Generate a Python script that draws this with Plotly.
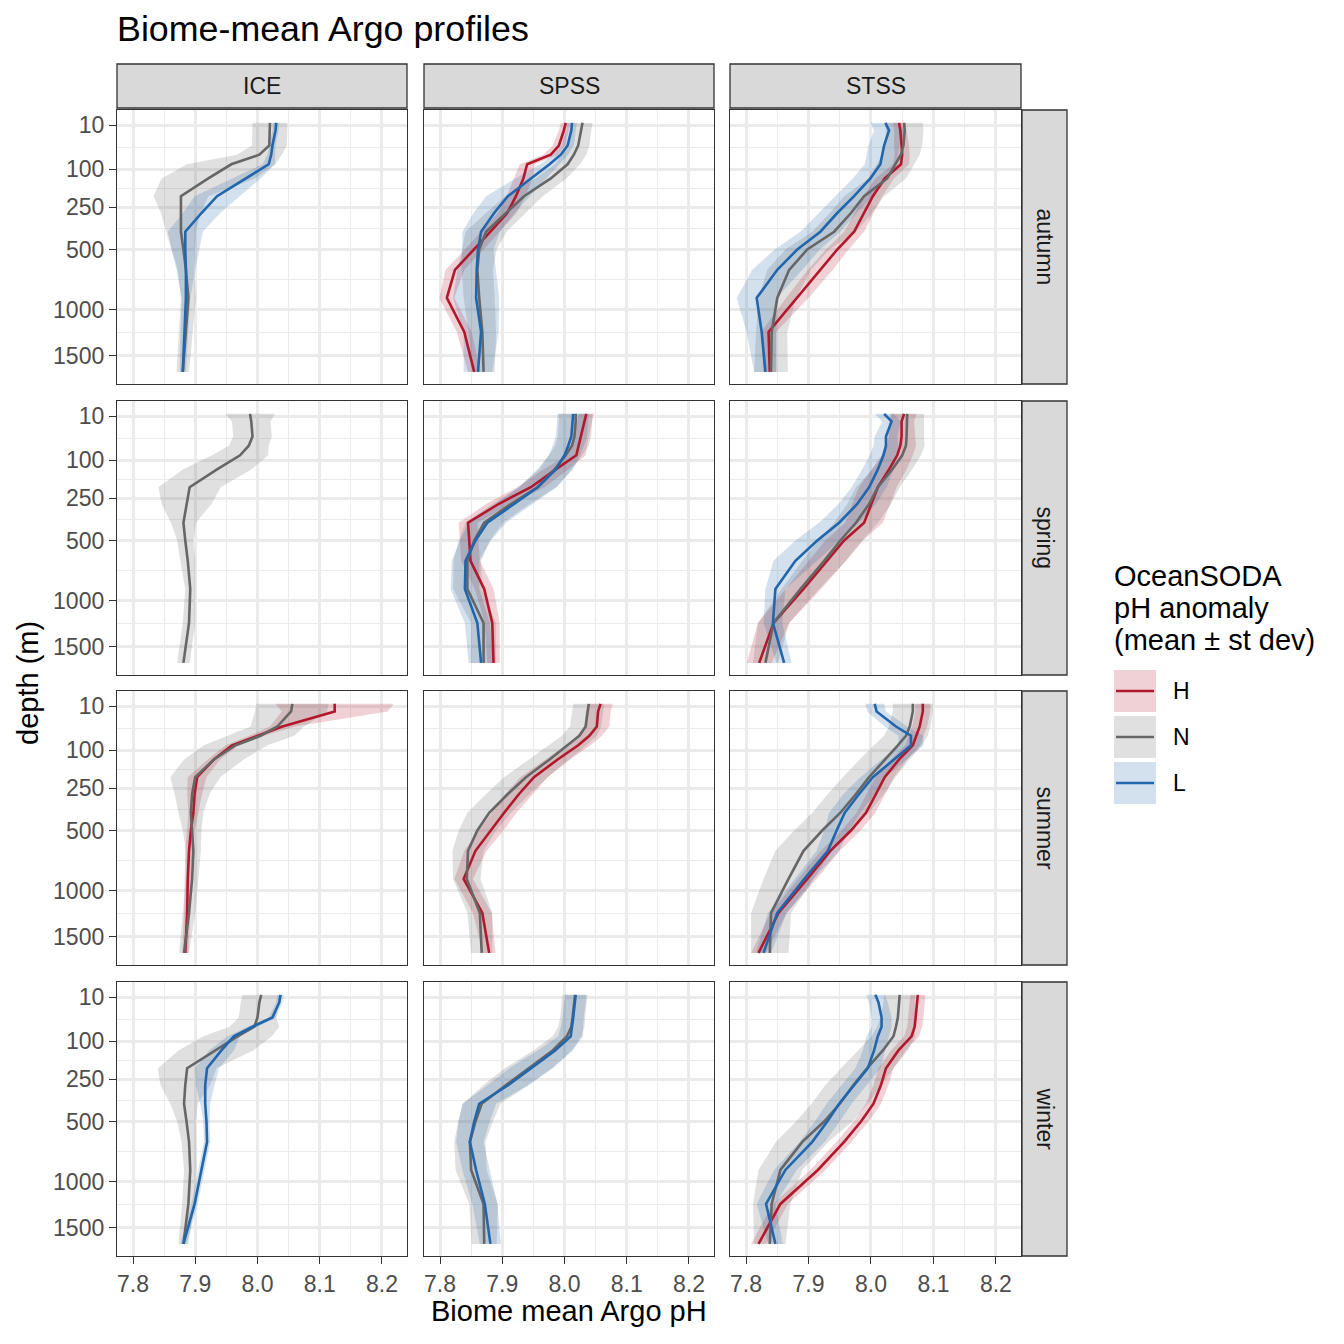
import numpy as np
import plotly.graph_objects as go

# ---------------- data ----------------
depth_m = [8, 16, 40, 60, 85, 130, 200, 280, 385, 500, 650, 890, 1230, 1700]
biomes = ["ICE", "SPSS", "STSS"]
seasons = ["autumn", "spring", "summer", "winter"]
anomaly_levels = ["H", "N", "L"]
depth_ticks = [10, 100, 250, 500, 1000, 1500]
ph_ticks = [7.8, 7.9, 8.0, 8.1, 8.2]
ph_tick_labels = ["7.8", "7.9", "8.0", "8.1", "8.2"]

# autumn
ice_autumn_N_mean = [8.020, 8.020, 8.019, 8.003, 7.958, 7.921, 7.877, 7.877, 7.877, 7.881, 7.885, 7.889, 7.885, 7.880]
ice_autumn_N_sd = [0.028, 0.028, 0.028, 0.036, 0.071, 0.075, 0.044, 0.032, 0.024, 0.019, 0.013, 0.012, 0.011, 0.010]
ice_autumn_L_mean = [8.030, 8.029, 8.024, 8.022, 8.018, 7.982, 7.935, 7.910, 7.884, 7.884, 7.885, 7.885, 7.883, 7.880]
ice_autumn_L_sd = [0.005, 0.005, 0.005, 0.006, 0.010, 0.023, 0.036, 0.030, 0.028, 0.022, 0.015, 0.007, 0.006, 0.005]

spss_autumn_H_mean = [8.002, 7.999, 7.991, 7.978, 7.940, 7.934, 7.922, 7.908, 7.881, 7.855, 7.824, 7.811, 7.839, 7.855]
spss_autumn_H_sd = [0.008, 0.008, 0.010, 0.012, 0.012, 0.015, 0.015, 0.015, 0.015, 0.015, 0.015, 0.012, 0.012, 0.010]
spss_autumn_N_mean = [8.029, 8.027, 8.022, 8.015, 8.005, 7.978, 7.935, 7.906, 7.874, 7.863, 7.860, 7.863, 7.868, 7.870]
spss_autumn_N_sd = [0.016, 0.016, 0.018, 0.020, 0.020, 0.025, 0.030, 0.032, 0.033, 0.028, 0.025, 0.025, 0.022, 0.018]
spss_autumn_L_mean = [8.012, 8.011, 8.005, 7.994, 7.976, 7.946, 7.909, 7.887, 7.866, 7.861, 7.859, 7.858, 7.866, 7.861]
spss_autumn_L_sd = [0.008, 0.008, 0.010, 0.012, 0.015, 0.025, 0.035, 0.033, 0.030, 0.025, 0.031, 0.037, 0.028, 0.023]

stss_autumn_H_mean = [8.045, 8.047, 8.049, 8.050, 8.048, 8.022, 8.003, 7.989, 7.973, 7.946, 7.919, 7.882, 7.836, 7.838]
stss_autumn_H_sd = [0.010, 0.010, 0.012, 0.012, 0.013, 0.015, 0.015, 0.015, 0.016, 0.018, 0.020, 0.018, 0.012, 0.010]
stss_autumn_N_mean = [8.053, 8.054, 8.052, 8.048, 8.039, 8.026, 7.989, 7.968, 7.941, 7.898, 7.869, 7.850, 7.841, 7.840]
stss_autumn_N_sd = [0.030, 0.030, 0.030, 0.030, 0.030, 0.030, 0.032, 0.034, 0.035, 0.035, 0.035, 0.030, 0.025, 0.027]
stss_autumn_L_mean = [8.023, 8.029, 8.021, 8.018, 8.015, 7.999, 7.973, 7.946, 7.919, 7.882, 7.850, 7.817, 7.825, 7.831]
stss_autumn_L_sd = [0.024, 0.024, 0.025, 0.025, 0.025, 0.028, 0.030, 0.031, 0.032, 0.036, 0.040, 0.032, 0.024, 0.018]

# spring
ice_spring_N_mean = [7.988, 7.990, 7.992, 7.986, 7.972, 7.935, 7.891, 7.886, 7.881, 7.884, 7.888, 7.892, 7.890, 7.881]
ice_spring_N_sd = [0.040, 0.031, 0.031, 0.032, 0.045, 0.055, 0.050, 0.040, 0.020, 0.013, 0.012, 0.008, 0.010, 0.010]

spss_spring_H_mean = [8.035, 8.032, 8.027, 8.023, 8.019, 7.986, 7.946, 7.894, 7.845, 7.847, 7.849, 7.871, 7.884, 7.886]
spss_spring_H_sd = [0.012, 0.012, 0.012, 0.013, 0.015, 0.020, 0.022, 0.020, 0.015, 0.015, 0.015, 0.015, 0.012, 0.010]
spss_spring_N_mean = [8.018, 8.018, 8.016, 8.012, 8.002, 7.984, 7.957, 7.914, 7.871, 7.855, 7.844, 7.844, 7.870, 7.870]
spss_spring_N_sd = [0.027, 0.027, 0.027, 0.027, 0.027, 0.028, 0.030, 0.030, 0.030, 0.025, 0.022, 0.023, 0.020, 0.020]
spss_spring_L_mean = [8.014, 8.013, 8.011, 8.006, 8.000, 7.986, 7.957, 7.919, 7.876, 7.857, 7.841, 7.840, 7.860, 7.866]
spss_spring_L_sd = [0.025, 0.025, 0.025, 0.025, 0.025, 0.027, 0.030, 0.030, 0.030, 0.025, 0.022, 0.023, 0.020, 0.020]

stss_spring_H_mean = [8.053, 8.049, 8.049, 8.047, 8.042, 8.029, 8.011, 8.000, 7.989, 7.957, 7.930, 7.892, 7.844, 7.821]
stss_spring_H_sd = [0.020, 0.020, 0.022, 0.025, 0.025, 0.028, 0.030, 0.030, 0.030, 0.030, 0.030, 0.028, 0.025, 0.020]
stss_spring_N_mean = [8.058, 8.058, 8.057, 8.056, 8.050, 8.034, 8.011, 7.997, 7.976, 7.951, 7.925, 7.887, 7.844, 7.831]
stss_spring_N_sd = [0.027, 0.027, 0.028, 0.030, 0.030, 0.032, 0.035, 0.035, 0.035, 0.035, 0.035, 0.030, 0.025, 0.020]
stss_spring_L_mean = [8.021, 8.033, 8.024, 8.024, 8.020, 8.011, 7.997, 7.978, 7.949, 7.914, 7.879, 7.847, 7.843, 7.861]
stss_spring_L_sd = [0.015, 0.015, 0.018, 0.020, 0.022, 0.025, 0.028, 0.030, 0.032, 0.035, 0.035, 0.016, 0.015, 0.012]

# summer
ice_summer_H_mean = [8.124, 8.124, 8.040, 7.999, 7.959, 7.930, 7.903, 7.899, 7.897, 7.893, 7.890, 7.888, 7.887, 7.884]
ice_summer_H_sd = [0.095, 0.085, 0.020, 0.012, 0.010, 0.010, 0.015, 0.012, 0.008, 0.006, 0.006, 0.005, 0.005, 0.005]
ice_summer_N_mean = [8.056, 8.054, 8.032, 8.005, 7.965, 7.930, 7.900, 7.895, 7.893, 7.895, 7.897, 7.895, 7.890, 7.882]
ice_summer_N_sd = [0.058, 0.058, 0.043, 0.054, 0.051, 0.048, 0.040, 0.028, 0.020, 0.015, 0.012, 0.010, 0.010, 0.008]

spss_summer_H_mean = [8.058, 8.054, 8.052, 8.040, 8.022, 7.989, 7.951, 7.927, 7.903, 7.882, 7.857, 7.838, 7.868, 7.879]
spss_summer_H_sd = [0.020, 0.020, 0.020, 0.020, 0.020, 0.020, 0.022, 0.022, 0.020, 0.020, 0.018, 0.015, 0.015, 0.010]
spss_summer_N_mean = [8.039, 8.037, 8.034, 8.024, 8.005, 7.976, 7.938, 7.909, 7.879, 7.860, 7.845, 7.843, 7.864, 7.867]
spss_summer_N_sd = [0.025, 0.025, 0.025, 0.028, 0.030, 0.032, 0.035, 0.035, 0.035, 0.030, 0.025, 0.022, 0.020, 0.017]

stss_summer_H_mean = [8.083, 8.083, 8.078, 8.072, 8.067, 8.045, 8.022, 8.008, 7.992, 7.968, 7.935, 7.898, 7.852, 7.820]
stss_summer_H_sd = [0.012, 0.012, 0.012, 0.012, 0.012, 0.013, 0.015, 0.015, 0.015, 0.015, 0.015, 0.015, 0.013, 0.012]
stss_summer_N_mean = [8.067, 8.067, 8.062, 8.056, 8.043, 8.022, 7.997, 7.976, 7.951, 7.922, 7.892, 7.868, 7.840, 7.838]
stss_summer_N_sd = [0.032, 0.032, 0.033, 0.035, 0.038, 0.040, 0.042, 0.045, 0.045, 0.045, 0.045, 0.040, 0.032, 0.030]
stss_summer_L_mean = [8.006, 8.009, 8.040, 8.064, 8.064, 8.037, 8.003, 7.981, 7.958, 7.945, 7.931, 7.893, 7.850, 7.828]
stss_summer_L_sd = [0.015, 0.015, 0.018, 0.020, 0.020, 0.020, 0.020, 0.025, 0.025, 0.020, 0.018, 0.015, 0.015, 0.012]

# winter
ice_winter_N_mean = [8.006, 8.003, 8.000, 7.995, 7.968, 7.933, 7.887, 7.884, 7.882, 7.886, 7.890, 7.892, 7.889, 7.881]
ice_winter_N_sd = [0.030, 0.030, 0.030, 0.040, 0.055, 0.060, 0.047, 0.040, 0.022, 0.015, 0.012, 0.010, 0.010, 0.008]
ice_winter_L_mean = [8.037, 8.035, 8.024, 7.992, 7.962, 7.942, 7.919, 7.916, 7.916, 7.918, 7.919, 7.910, 7.899, 7.881]
ice_winter_L_sd = [0.005, 0.005, 0.006, 0.008, 0.010, 0.020, 0.019, 0.015, 0.008, 0.005, 0.005, 0.005, 0.005, 0.005]

spss_winter_N_mean = [8.017, 8.016, 8.013, 8.011, 8.004, 7.981, 7.942, 7.906, 7.867, 7.857, 7.848, 7.850, 7.870, 7.871]
spss_winter_N_sd = [0.020, 0.020, 0.020, 0.021, 0.023, 0.031, 0.038, 0.036, 0.030, 0.028, 0.025, 0.025, 0.023, 0.020]
spss_winter_L_mean = [8.018, 8.017, 8.014, 8.012, 8.010, 7.985, 7.946, 7.910, 7.863, 7.855, 7.848, 7.858, 7.872, 7.881]
spss_winter_L_sd = [0.017, 0.017, 0.017, 0.018, 0.020, 0.028, 0.035, 0.033, 0.027, 0.025, 0.022, 0.022, 0.020, 0.017]

stss_winter_H_mean = [8.075, 8.074, 8.072, 8.070, 8.065, 8.044, 8.024, 8.016, 8.004, 7.984, 7.957, 7.915, 7.855, 7.820]
stss_winter_H_sd = [0.012, 0.012, 0.012, 0.012, 0.012, 0.012, 0.012, 0.012, 0.012, 0.012, 0.012, 0.012, 0.012, 0.012]
stss_winter_N_mean = [8.046, 8.045, 8.043, 8.040, 8.036, 8.019, 7.994, 7.972, 7.950, 7.925, 7.890, 7.855, 7.841, 7.838]
stss_winter_N_sd = [0.025, 0.025, 0.028, 0.030, 0.035, 0.040, 0.042, 0.045, 0.045, 0.045, 0.042, 0.035, 0.030, 0.025]
stss_winter_L_mean = [8.007, 8.012, 8.017, 8.017, 8.011, 8.005, 7.995, 7.973, 7.949, 7.930, 7.906, 7.863, 7.832, 7.847]
stss_winter_L_sd = [0.015, 0.015, 0.016, 0.016, 0.018, 0.018, 0.020, 0.020, 0.020, 0.020, 0.020, 0.018, 0.015, 0.012]

panel_series = {
    ("autumn", "ICE"): {"N": (ice_autumn_N_mean, ice_autumn_N_sd), "L": (ice_autumn_L_mean, ice_autumn_L_sd)},
    ("autumn", "SPSS"): {"H": (spss_autumn_H_mean, spss_autumn_H_sd), "N": (spss_autumn_N_mean, spss_autumn_N_sd), "L": (spss_autumn_L_mean, spss_autumn_L_sd)},
    ("autumn", "STSS"): {"H": (stss_autumn_H_mean, stss_autumn_H_sd), "N": (stss_autumn_N_mean, stss_autumn_N_sd), "L": (stss_autumn_L_mean, stss_autumn_L_sd)},
    ("spring", "ICE"): {"N": (ice_spring_N_mean, ice_spring_N_sd)},
    ("spring", "SPSS"): {"H": (spss_spring_H_mean, spss_spring_H_sd), "N": (spss_spring_N_mean, spss_spring_N_sd), "L": (spss_spring_L_mean, spss_spring_L_sd)},
    ("spring", "STSS"): {"H": (stss_spring_H_mean, stss_spring_H_sd), "N": (stss_spring_N_mean, stss_spring_N_sd), "L": (stss_spring_L_mean, stss_spring_L_sd)},
    ("summer", "ICE"): {"H": (ice_summer_H_mean, ice_summer_H_sd), "N": (ice_summer_N_mean, ice_summer_N_sd)},
    ("summer", "SPSS"): {"H": (spss_summer_H_mean, spss_summer_H_sd), "N": (spss_summer_N_mean, spss_summer_N_sd)},
    ("summer", "STSS"): {"H": (stss_summer_H_mean, stss_summer_H_sd), "N": (stss_summer_N_mean, stss_summer_N_sd), "L": (stss_summer_L_mean, stss_summer_L_sd)},
    ("winter", "ICE"): {"N": (ice_winter_N_mean, ice_winter_N_sd), "L": (ice_winter_L_mean, ice_winter_L_sd)},
    ("winter", "SPSS"): {"N": (spss_winter_N_mean, spss_winter_N_sd), "L": (spss_winter_L_mean, spss_winter_L_sd)},
    ("winter", "STSS"): {"H": (stss_winter_H_mean, stss_winter_H_sd), "N": (stss_winter_N_mean, stss_winter_N_sd), "L": (stss_winter_L_mean, stss_winter_L_sd)},
}

# ---------------- styling ----------------
W = H = 1344
OFF = 8  # page body margin of the browser
FONT = "Liberation Sans, Arial, Helvetica, sans-serif"
line_col = {"H": "#B2182B", "N": "#666666", "L": "#2166AC"}
fill_col = {"H": "rgba(178,24,43,0.2)", "N": "rgba(102,102,102,0.2)", "L": "rgba(33,102,172,0.2)"}
GRID = "#EBEBEB"
BORDER = "#333333"

col_px = [(117, 407), (424, 714), (730, 1021)]
row_px = [(110, 384), (401, 675), (691, 965), (982, 1256)]


def fx(px):
    return (px - OFF) / W


def fy(px):
    return 1 - (px - OFF) / H


x_range = [7.7743, 8.2402]
y_range = [43.10, 0.849]  # sqrt(depth), reversed

y_tickvals = [float(np.sqrt(d)) for d in depth_ticks]
y_minor = [(a + b) / 2 for a, b in zip(y_tickvals[:-1], y_tickvals[1:])]
x_minor = [(a + b) / 2 for a, b in zip(ph_ticks[:-1], ph_ticks[1:])]

fig = go.Figure()
layout = {}
y_depth = [float(np.sqrt(d)) for d in depth_m]

for r, season in enumerate(seasons):
    for c, biome in enumerate(biomes):
        n = r * 3 + c + 1
        xa = "x" if n == 1 else f"x{n}"
        ya = "y" if n == 1 else f"y{n}"
        series = panel_series[(season, biome)]
        for lev in anomaly_levels:
            if lev not in series:
                continue
            m, s = series[lev]
            lo = [a - b for a, b in zip(m, s)]
            hi = [a + b for a, b in zip(m, s)]
            fig.add_trace(go.Scatter(
                x=lo + hi[::-1], y=y_depth + y_depth[::-1], xaxis=xa, yaxis=ya,
                mode="lines", fill="toself", fillcolor=fill_col[lev],
                line=dict(width=0), hoverinfo="skip", showlegend=False))
        for lev in anomaly_levels:
            if lev not in series:
                continue
            m, s = series[lev]
            fig.add_trace(go.Scatter(
                x=m, y=y_depth, xaxis=xa, yaxis=ya, mode="lines",
                line=dict(color=line_col[lev], width=2.6), showlegend=False,
                name=lev))

        x0, x1 = col_px[c]
        y0, y1 = row_px[r]
        bottom = r == len(seasons) - 1
        left = c == 0
        layout[f"xaxis{'' if n == 1 else n}"] = dict(
            domain=[fx(x0), fx(x1)], anchor=ya, range=x_range,
            tickmode="array", tickvals=ph_ticks, ticktext=ph_tick_labels,
            showticklabels=bottom, ticks="outside" if bottom else "",
            ticklen=7, tickwidth=1.3, tickcolor=BORDER,
            tickfont=dict(family=FONT, size=23, color="#4D4D4D"),
            showgrid=True, gridcolor=GRID, gridwidth=2.6,
            minor=dict(tickmode="array", tickvals=x_minor, showgrid=True,
                       gridcolor=GRID, gridwidth=1.4, ticks=""),
            zeroline=False, showline=True, mirror=True, linecolor=BORDER,
            linewidth=1.3, fixedrange=True)
        layout[f"yaxis{'' if n == 1 else n}"] = dict(
            domain=[fy(y1), fy(y0)], anchor=xa, range=y_range,
            tickmode="array", tickvals=y_tickvals, ticktext=[str(d) for d in depth_ticks],
            showticklabels=left, ticks="outside" if left else "",
            ticklen=7, tickwidth=1.3, tickcolor=BORDER,
            tickfont=dict(family=FONT, size=23, color="#4D4D4D"),
            showgrid=True, gridcolor=GRID, gridwidth=2.6,
            minor=dict(tickmode="array", tickvals=y_minor, showgrid=True,
                       gridcolor=GRID, gridwidth=1.4, ticks=""),
            zeroline=False, showline=True, mirror=True, linecolor=BORDER,
            linewidth=1.3, fixedrange=True)

shapes = []
annotations = []

for c, biome in enumerate(biomes):
    x0, x1 = col_px[c]
    shapes.append(dict(type="rect", xref="paper", yref="paper",
                       x0=fx(x0), x1=fx(x1), y0=fy(108), y1=fy(64),
                       fillcolor="#D9D9D9", line=dict(color=BORDER, width=1.3)))
    annotations.append(dict(text=biome, xref="paper", yref="paper",
                            x=fx((x0 + x1) / 2), y=fy(86), showarrow=False,
                            xanchor="center", yanchor="middle",
                            font=dict(family=FONT, size=23, color="#1A1A1A")))
for r, season in enumerate(seasons):
    y0, y1 = row_px[r]
    shapes.append(dict(type="rect", xref="paper", yref="paper",
                       x0=fx(1022), x1=fx(1067), y0=fy(y1), y1=fy(y0),
                       fillcolor="#D9D9D9", line=dict(color=BORDER, width=1.3)))
    annotations.append(dict(text=season, xref="paper", yref="paper",
                            x=fx(1044.5), y=fy((y0 + y1) / 2), showarrow=False,
                            textangle=90, xanchor="center", yanchor="middle",
                            font=dict(family=FONT, size=23, color="#1A1A1A")))

annotations.append(dict(text="Biome-mean Argo profiles", xref="paper", yref="paper",
                        x=fx(115), y=fy(29), xanchor="left", yanchor="middle",
                        showarrow=False, font=dict(family=FONT, size=35.8, color="black")))
annotations.append(dict(text="Biome mean Argo pH", xref="paper", yref="paper",
                        x=fx(569), y=fy(1311), xanchor="center", yanchor="middle",
                        showarrow=False, font=dict(family=FONT, size=29, color="black")))
annotations.append(dict(text="depth (m)", xref="paper", yref="paper",
                        x=fx(28), y=fy(683), xanchor="center", yanchor="middle",
                        textangle=-90, showarrow=False,
                        font=dict(family=FONT, size=29, color="black")))

for i, line in enumerate(["OceanSODA", "pH anomaly", "(mean \u00b1 st dev)"]):
    annotations.append(dict(text=line, xref="paper", yref="paper",
                            x=fx(1112), y=fy(576 + 32 * i), xanchor="left",
                            yanchor="middle", showarrow=False,
                            font=dict(family=FONT, size=29, color="black")))
for i, lev in enumerate(anomaly_levels):
    cy = 691 + 46 * i
    shapes.append(dict(type="rect", xref="paper", yref="paper",
                       x0=fx(1114), x1=fx(1156), y0=fy(cy + 21), y1=fy(cy - 21),
                       fillcolor=fill_col[lev], line=dict(width=0)))
    shapes.append(dict(type="line", xref="paper", yref="paper",
                       x0=fx(1116), x1=fx(1154), y0=fy(cy), y1=fy(cy),
                       line=dict(color=line_col[lev], width=2.6)))
    annotations.append(dict(text=lev, xref="paper", yref="paper",
                            x=fx(1171), y=fy(cy), xanchor="left", yanchor="middle",
                            showarrow=False,
                            font=dict(family=FONT, size=23, color="black")))

fig.update_layout(
    width=W, height=H, margin=dict(l=0, r=0, t=0, b=0),
    paper_bgcolor="white", plot_bgcolor="white",
    showlegend=False, shapes=shapes, annotations=annotations,
    font=dict(family=FONT), **layout)

fig.write_html("out.html")
